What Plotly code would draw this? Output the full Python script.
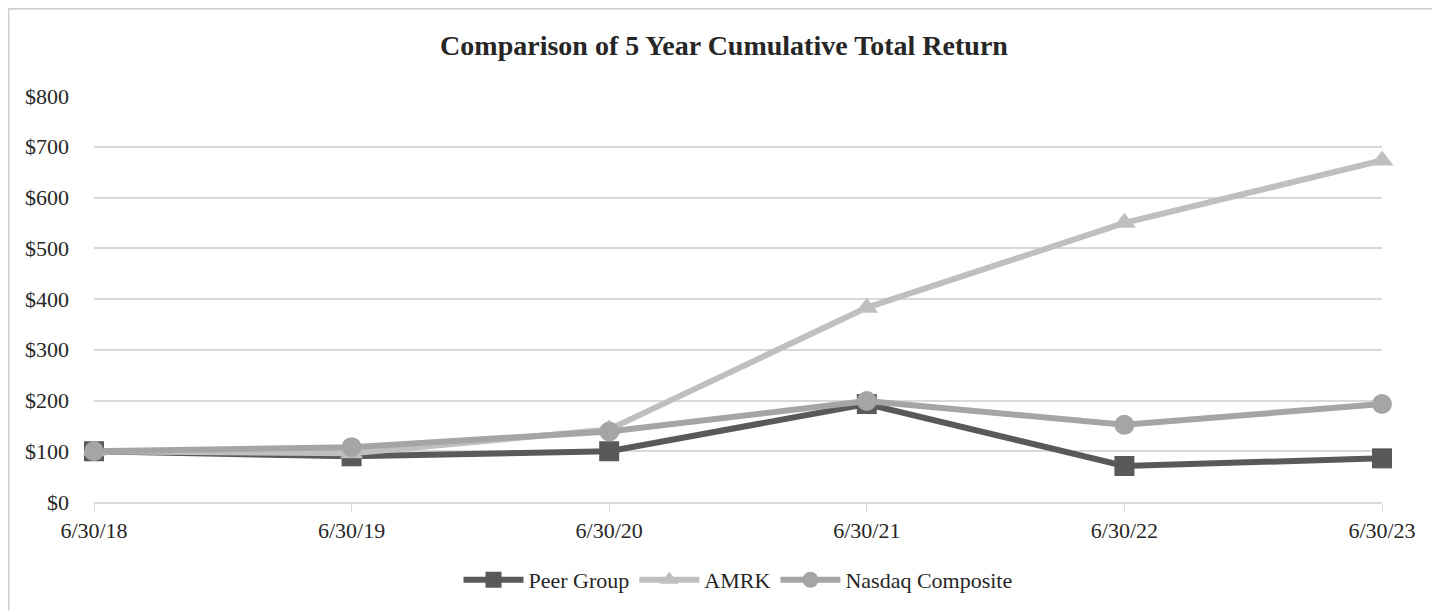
import plotly.graph_objects as go

dates = ["6/30/18", "6/30/19", "6/30/20", "6/30/21", "6/30/22", "6/30/23"]
peer_group = [100, 90, 100, 193, 71, 86]
amrk = [100, 96, 143, 383, 550, 673]
nasdaq = [100, 108, 139, 199, 152, 193]

y_ticks = [0, 100, 200, 300, 400, 500, 600, 700, 800]
y_labels = ["$" + str(v) for v in y_ticks]

FONT = "Liberation Serif, Times New Roman, serif"
xs = list(range(len(dates)))

fig = go.Figure()
series = [
    ("Peer Group", peer_group, "#595959", "square", 20),
    ("AMRK", amrk, "#bfbfbf", "triangle-up", 20),
    ("Nasdaq Composite", nasdaq, "#a5a5a5", "circle", 20),
]
for name, vals, col, sym, sz in series:
    fig.add_trace(go.Scatter(
        x=xs, y=vals, name=name, mode="lines+markers",
        line=dict(color=col, width=6),
        marker=dict(symbol=sym, size=sz, color=col),
        cliponaxis=False,
    ))

# page is offset by 8px body margin; coordinates below are figure coordinates
W, H = 1432, 604
L, R, T, B = 86, 58, 88, 109
pw, ph = W - L - R, H - T - B
def px(x):
    return (x - L) / pw
def py(y):
    return (H - B - y) / ph

fig.update_layout(
    width=W, height=H,
    margin=dict(l=L, r=R, t=T, b=B),
    paper_bgcolor="white", plot_bgcolor="white",
    font=dict(family=FONT, size=22, color="#262626"),
    title=dict(text="<b>Comparison of 5 Year Cumulative Total Return</b>",
               x=0.5, xanchor="center", y=1 - 37 / H, yanchor="middle",
               font=dict(family=FONT, size=28, color="#262626")),
    showlegend=True,
    legend=dict(orientation="h", x=0.5, xanchor="center", y=py(572), yanchor="middle",
                font=dict(family=FONT, size=22, color="#262626"),
                itemwidth=60, traceorder="normal"),
    xaxis=dict(
        range=[0, 5], tickvals=xs, ticktext=dates,
        showgrid=False, zeroline=False,
        showline=True, linecolor="#d9d9d9", linewidth=2,
        ticks="outside", ticklen=8, tickcolor="#d9d9d9", tickwidth=1,
        ticklabelstandoff=0,
        tickfont=dict(family=FONT, size=22, color="#262626"),
    ),
    yaxis=dict(
        range=[0, 800], tickvals=y_ticks, ticktext=y_labels,
        showgrid=True, gridcolor="#d9d9d9", gridwidth=1.5,
        zeroline=False, showline=False, ticks="",
        ticklabelstandoff=24,
        tickfont=dict(family=FONT, size=22, color="#262626"),
    ),
    shapes=[
        dict(type="line", xref="paper", yref="paper", x0=px(0), x1=px(W), y0=py(0.5), y1=py(0.5),
             line=dict(color="#d0d0d0", width=2)),
        dict(type="line", xref="paper", yref="paper", x0=px(0.5), x1=px(0.5), y0=py(0), y1=py(H),
             line=dict(color="#d0d0d0", width=2)),
    ],
)

fig.write_html("out.html")
